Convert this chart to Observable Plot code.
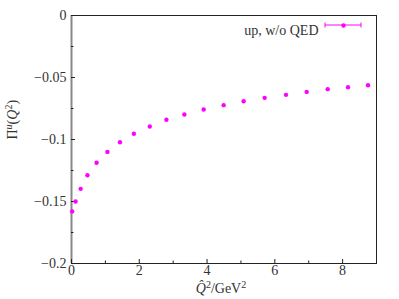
<!DOCTYPE html>
<html><head><meta charset="utf-8">
<script src="https://cdn.jsdelivr.net/npm/d3@7"></script>
<script src="https://cdn.jsdelivr.net/npm/@observablehq/plot@0.6"></script>
<style>body{margin:0;background:#fff}</style></head>
<body><div id="chart"></div>
<script>
const q2 = [0.02, 0.12, 0.27, 0.47, 0.74, 1.06, 1.43, 1.84, 2.31, 2.80, 3.33, 3.90, 4.49, 5.08, 5.70, 6.33, 6.94, 7.56, 8.16, 8.75];
const pi = [-0.158, -0.150, -0.1398, -0.1288, -0.1188, -0.1100, -0.1022, -0.0954, -0.0895, -0.0841, -0.0798, -0.0758, -0.0723, -0.0691, -0.0664, -0.0640, -0.0616, -0.0594, -0.0578, -0.0562];
const yTicks = [0, -0.05, -0.1, -0.15, -0.2];
const yMinor = [-0.025, -0.075, -0.125, -0.175];
const xTicks = [0, 2, 4, 6, 8];
const xMinor = [1, 3, 5, 7];
const seriesName = "up, w/o QED";
const color = "#ff00ff";
const FONT = "Liberation Serif, DejaVu Serif, serif";
const FS = 14;

const data = q2.map((x, i) => ({x, y: pi[i]}));
const fmtY = d => d === 0 ? "0" : "\u2212" + Math.abs(d);

const chart = Plot.plot({
  width: 399, height: 299,
  marginLeft: 71, marginRight: 23, marginTop: 15, marginBottom: 36,
  style: {background: "#fff", color: "#333", fontFamily: FONT, fontSize: FS + "px"},
  x: {domain: [0, 9]},
  y: {domain: [-0.2, 0]},
  marks: [
    Plot.frame({stroke: "#222", strokeWidth: 1}),
    Plot.ruleX([0], {stroke: "#888", strokeWidth: 2}),
    Plot.axisY(yTicks, {tickSize: 0, tickPadding: 5, tickFormat: fmtY, label: null, fontSize: FS}),
    Plot.axisY(yTicks, {tickSize: -4, text: null, label: null, stroke: "#222"}),
    Plot.axisY(yMinor, {tickSize: -2.5, text: null, label: null, stroke: "#222"}),
    Plot.axisX(xTicks, {tickSize: 0, tickPadding: 2, label: null, fontSize: FS}),
    Plot.axisX(xTicks, {tickSize: -4, text: null, label: null, stroke: "#222"}),
    Plot.axisX(xMinor, {tickSize: -2.5, text: null, label: null, stroke: "#222"}),
    Plot.dot(data, {x: "x", y: "y", r: 2.2, fill: color, stroke: "none"}),
    Plot.text(["ylabel"], {frameAnchor: "left", rotate: -90, dx: -59, className: "ylab", fill: "#333", fontSize: FS}),
    Plot.text(["xlabel"], {frameAnchor: "bottom", dy: 29, dx: -3, className: "xlab", fill: "#333", fontSize: FS}),
    Plot.text([seriesName], {frameAnchor: "top-right", textAnchor: "end", dx: -58, dy: 10, fill: "#333", fontSize: FS}),
    Plot.dot([seriesName], {frameAnchor: "top-right", dx: -33, dy: 10, r: 2.2, fill: color})
  ]
});
document.getElementById("chart").appendChild(chart);

const svg = d3.select(chart);
svg.attr("font-family", FONT).attr("font-size", FS);
svg.selectAll("text").attr("font-family", FONT);
// y label: Π^u(Q^2)
const yl = svg.select(".ylab text");
yl.text(null);
yl.append("tspan").text("\u03A0");
yl.append("tspan").attr("font-style", "italic").attr("font-size", 10).attr("dy", -5).text("u");
yl.append("tspan").attr("dy", 5).text("(");
yl.append("tspan").attr("font-style", "italic").text("Q");
yl.append("tspan").attr("font-size", 10).attr("dy", -5).text("2");
yl.append("tspan").attr("dy", 5).text(")");
// x label: Q̂^2/GeV^2
const xl = svg.select(".xlab text");
xl.text(null);
xl.append("tspan").attr("font-style", "italic").text("Q\u0302");
xl.append("tspan").attr("font-size", 10).attr("dy", -5).text("2");
xl.append("tspan").attr("dy", 5).text("/GeV");
xl.append("tspan").attr("font-size", 10).attr("dy", -5).text("2");

// legend swatch line with error-bar caps
const W = 399, mR = 23, mT = 15;
const gx = W - mR, gy = mT + 10;
const lg = svg.append("g").attr("stroke", color).attr("stroke-width", 1);
lg.append("line").attr("x1", gx - 51).attr("x2", gx - 15).attr("y1", gy).attr("y2", gy);
lg.append("line").attr("x1", gx - 51).attr("x2", gx - 51).attr("y1", gy - 2.5).attr("y2", gy + 2.5);
lg.append("line").attr("x1", gx - 15).attr("x2", gx - 15).attr("y1", gy - 2.5).attr("y2", gy + 2.5);
</script>
</body></html>
